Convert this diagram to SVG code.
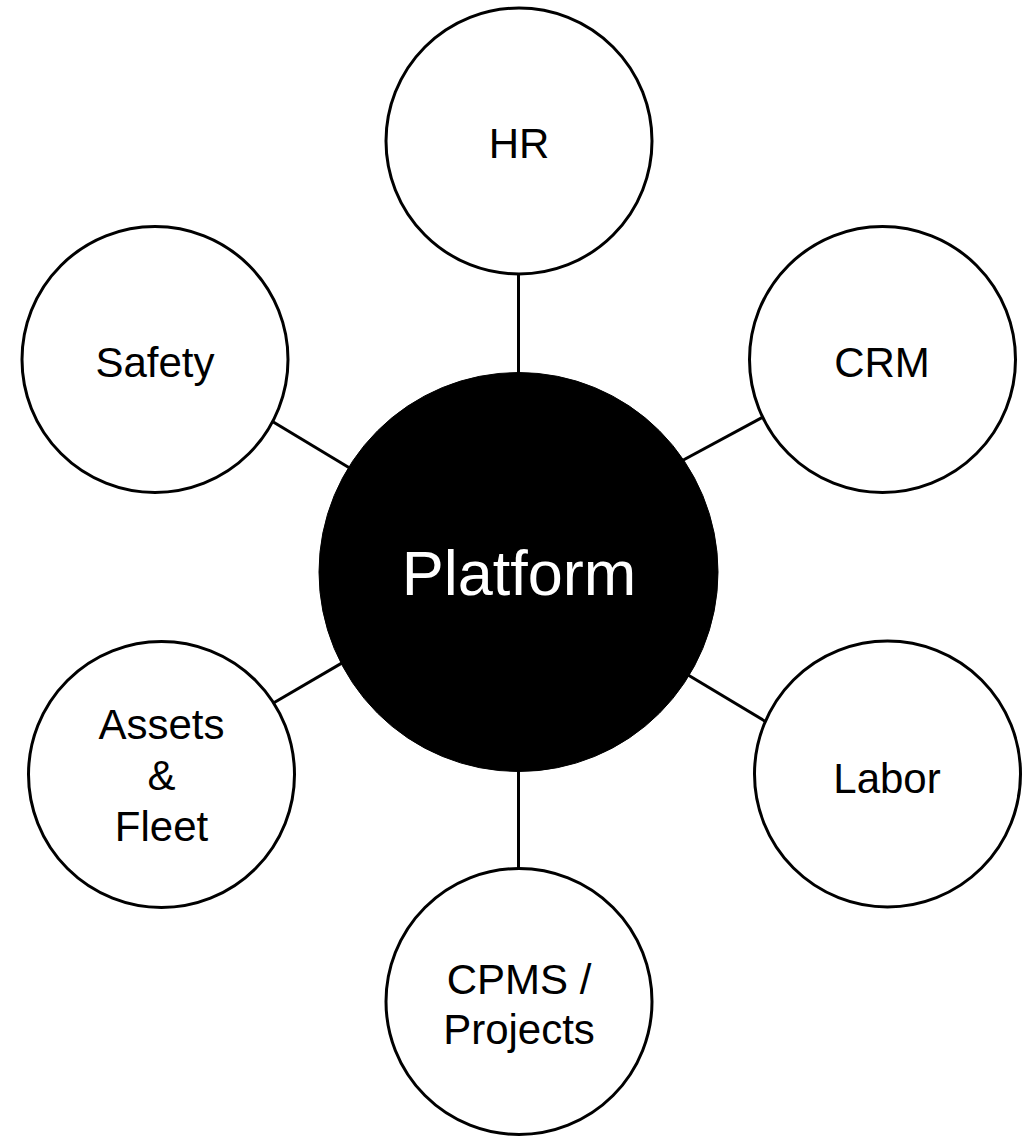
<svg xmlns="http://www.w3.org/2000/svg" width="1030" height="1136" viewBox="0 0 1030 1136">
<style>
.conn{stroke:#000;stroke-width:3;fill:none}
.node{fill:#fff;stroke:#000;stroke-width:3}
.hub{fill:#000;stroke:#000;stroke-width:1}
.lbl{font-family:"Liberation Sans",Arial,sans-serif;font-size:42px;fill:#000;text-anchor:middle}
.hubl{font-family:"Liberation Sans",Arial,sans-serif;font-size:63px;fill:#fff;text-anchor:middle}
</style>
<rect width="1030" height="1136" fill="#fff"/>
<g id="connectors">
<line class="conn" x1="518.5" y1="270" x2="518.5" y2="380"/>
<line class="conn" x1="518.5" y1="765" x2="518.5" y2="872"/>
<line class="conn" x1="265" y1="417" x2="360" y2="474.3"/>
<line class="conn" x1="267" y1="706.8" x2="355" y2="655.4"/>
<line class="conn" x1="675" y1="464.5" x2="775" y2="410.5"/>
<line class="conn" x1="676" y1="667.8" x2="775" y2="727.2"/>
</g>
<g id="platform">
<circle class="hub" cx="518.5" cy="572" r="199.5"/>
<text class="hubl" x="519" y="595">Platform</text>
</g>
<g id="hr">
<circle class="node" cx="519" cy="141" r="133"/>
<text class="lbl" x="519" y="158">HR</text>
</g>
<g id="crm">
<circle class="node" cx="882.5" cy="359.5" r="133"/>
<text class="lbl" x="882" y="377">CRM</text>
</g>
<g id="safety">
<circle class="node" cx="155" cy="359.5" r="133"/>
<text class="lbl" x="155" y="377">Safety</text>
</g>
<g id="assets">
<circle class="node" cx="161.5" cy="774.5" r="133"/>
<text class="lbl" x="161.5" y="739">Assets</text>
<text class="lbl" x="161.5" y="790">&amp;</text>
<text class="lbl" x="161.5" y="841">Fleet</text>
</g>
<g id="labor">
<circle class="node" cx="887.5" cy="774" r="133"/>
<text class="lbl" x="887" y="793">Labor</text>
</g>
<g id="cpms">
<circle class="node" cx="519" cy="1001.5" r="133"/>
<text class="lbl" x="519" y="994">CPMS /</text>
<text class="lbl" x="519" y="1044">Projects</text>
</g>
</svg>
